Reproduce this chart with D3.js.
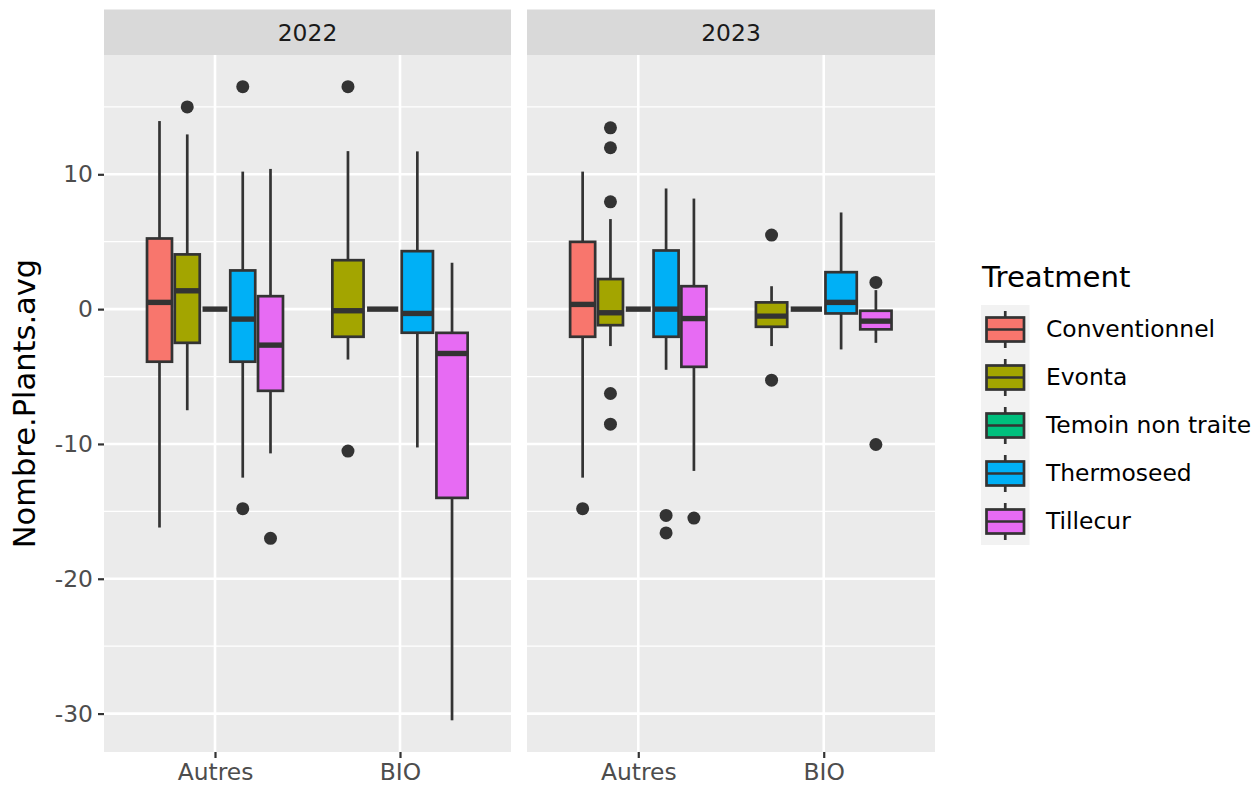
<!DOCTYPE html>
<html>
<head>
<meta charset="utf-8">
<script src="https://cdn.jsdelivr.net/npm/d3@7"></script>
<style>
  html, body { margin: 0; padding: 0; background: #ffffff; }
  svg { display: block; font-family: "DejaVu Sans", sans-serif; }
</style>
</head>
<body>
<svg id="chart" width="1260" height="786"></svg>
<script>
// Facets, x categories and fill groups
const years = ["2022", "2023"];
const systems = ["Autres", "BIO"];
const treatments = ["Conventionnel", "Evonta", "Temoin non traite", "Thermoseed", "Tillecur"];
const treatmentColors = ["#F8766D", "#A3A500", "#00BF7D", "#00B0F6", "#E76BF3"];
const yTicks = [-30, -20, -10, 0, 10];
const yTickLabels = ["-30", "-20", "-10", "0", "10"];
const yMinorTicks = [-25, -15, -5, 5, 15];

// Box statistics: [system, treatment, lower whisker, Q1, median, Q3, upper whisker]
const boxes2022 = [
  ["Autres", "Conventionnel",     -16.2, -3.9,  0.5,   5.24, 13.95],
  ["Autres", "Evonta",             -7.5, -2.5,  1.36,  4.06, 12.96],
  ["Autres", "Temoin non traite",   0,    0,    0,     0,     0],
  ["Autres", "Thermoseed",        -12.5, -3.9, -0.74,  2.87, 10.2],
  ["Autres", "Tillecur",          -10.7, -6.06,-2.67,  0.96, 10.4],
  ["BIO",    "Evonta",             -3.74,-2.05,-0.12,  3.63, 11.72],
  ["BIO",    "Temoin non traite",   0,    0,    0,     0,     0],
  ["BIO",    "Thermoseed",        -10.26,-1.75,-0.32,  4.3,  11.7],
  ["BIO",    "Tillecur",          -30.5,-14.0, -3.29, -1.76,  3.44]
];
const boxes2023 = [
  ["Autres", "Conventionnel",     -12.5, -2.05, 0.35,  4.99, 10.2],
  ["Autres", "Evonta",             -2.74,-1.19,-0.27,  2.23,  6.68],
  ["Autres", "Temoin non traite",   0,    0,    0,     0,     0],
  ["Autres", "Thermoseed",         -4.5, -2.05, 0,     4.35,  8.95],
  ["Autres", "Tillecur",          -12.0, -4.28,-0.7,   1.7,   8.2],
  ["BIO",    "Evonta",             -2.74,-1.31,-0.52,  0.5,   1.7],
  ["BIO",    "Temoin non traite",   0,    0,    0,     0,     0],
  ["BIO",    "Thermoseed",         -2.99,-0.32, 0.5,   2.74,  7.17],
  ["BIO",    "Tillecur",           -2.5, -1.5, -0.89, -0.12,  1.41]
];

// Outliers: [system, treatment, value]
const outliers2022 = [
  ["Autres", "Evonta", 15.0],
  ["Autres", "Thermoseed", 16.5],
  ["Autres", "Thermoseed", -14.8],
  ["Autres", "Tillecur", -17.0],
  ["BIO", "Evonta", 16.5],
  ["BIO", "Evonta", -10.53]
];
const outliers2023 = [
  ["Autres", "Conventionnel", -14.8],
  ["Autres", "Evonta", 13.45],
  ["Autres", "Evonta", 11.97],
  ["Autres", "Evonta", 7.96],
  ["Autres", "Evonta", -6.26],
  ["Autres", "Evonta", -8.53],
  ["Autres", "Thermoseed", -15.3],
  ["Autres", "Thermoseed", -16.6],
  ["Autres", "Tillecur", -15.5],
  ["BIO", "Evonta", 5.49],
  ["BIO", "Evonta", -5.27],
  ["BIO", "Tillecur", 1.98],
  ["BIO", "Tillecur", -10.04]
];

const boxesByYear = { "2022": boxes2022, "2023": boxes2023 };
const outliersByYear = { "2022": outliers2022, "2023": outliers2023 };

const svg = d3.select("#chart");
const color = d3.scaleOrdinal().domain(treatments).range(treatmentColors);

// Layout
const panelTop = 55, panelBottom = 752;
const stripTop = 9.5;
const panels = [
  { year: years[0], left: 104, right: 511 },
  { year: years[1], left: 527, right: 935 }
];
const ink = "#333333";

const y = d3.scaleLinear().domain([-32.85, 18.85]).range([panelBottom, panelTop]);

const dodgeWidth = 0.75;   // total width shared by groups at one x position
const boxPadding = 0.1;    // fraction of each slot left empty

panels.forEach(p => {
  const g = svg.append("g");
  // x positions are 1..n in a continuous space expanded by 0.6 on each side
  const x = d3.scaleLinear().domain([0.4, systems.length + 0.6]).range([p.left, p.right]);
  const xPos = s => systems.indexOf(s) + 1;

  // panel background
  g.append("rect")
    .attr("x", p.left).attr("y", panelTop)
    .attr("width", p.right - p.left).attr("height", panelBottom - panelTop)
    .attr("fill", "#EBEBEB");

  // minor grid
  g.selectAll(".ymin").data(yMinorTicks).join("line")
    .attr("x1", p.left).attr("x2", p.right)
    .attr("y1", d => y(d)).attr("y2", d => y(d))
    .attr("stroke", "#ffffff").attr("stroke-width", 1.3);
  // major grid
  g.selectAll(".ymaj").data(yTicks).join("line")
    .attr("x1", p.left).attr("x2", p.right)
    .attr("y1", d => y(d)).attr("y2", d => y(d))
    .attr("stroke", "#ffffff").attr("stroke-width", 2.6);
  g.selectAll(".xmaj").data(systems).join("line")
    .attr("x1", d => x(xPos(d))).attr("x2", d => x(xPos(d)))
    .attr("y1", panelTop).attr("y2", panelBottom)
    .attr("stroke", "#ffffff").attr("stroke-width", 2.6);

  // strip
  g.append("rect")
    .attr("x", p.left).attr("y", stripTop)
    .attr("width", p.right - p.left).attr("height", panelTop - stripTop)
    .attr("fill", "#D9D9D9");
  g.append("text")
    .attr("x", (p.left + p.right) / 2).attr("y", (stripTop + panelTop) / 2)
    .attr("dy", "0.36em")
    .attr("text-anchor", "middle")
    .attr("font-size", 23.4).attr("fill", "#1A1A1A")
    .text(p.year);

  // x axis
  const xAxis = d3.axisBottom(x)
    .tickValues(systems.map(xPos))
    .tickFormat(v => systems[v - 1])
    .tickSize(6).tickPadding(5);
  const ax = g.append("g").attr("transform", `translate(0,${panelBottom})`).call(xAxis);
  ax.select(".domain").remove();
  ax.selectAll(".tick line").attr("stroke", ink).attr("stroke-width", 2.2);
  ax.selectAll(".tick text")
    .attr("font-family", "DejaVu Sans, sans-serif")
    .attr("font-size", 23.4).attr("fill", "#4D4D4D");

  // dodged positions for the groups present at each x
  const rows = boxesByYear[p.year];
  const groupsAt = {};
  systems.forEach(s => {
    groupsAt[s] = treatments.filter(t => rows.some(r => r[0] === s && r[1] === t));
  });
  const slotOf = (s, t) => {
    const list = groupsAt[s];
    const n = list.length;
    const slot = dodgeWidth / n;
    const i = list.indexOf(t);
    return { center: xPos(s) - dodgeWidth / 2 + slot * (i + 0.5), width: slot * (1 - boxPadding) };
  };

  const boxData = rows.map(r => {
    const pos = slotOf(r[0], r[1]);
    return { system: r[0], treatment: r[1], lo: r[2], q1: r[3], med: r[4], q3: r[5], hi: r[6], ...pos };
  });

  const bg = g.append("g");
  // whiskers
  bg.selectAll(".whisk-up").data(boxData).join("line")
    .attr("x1", d => x(d.center)).attr("x2", d => x(d.center))
    .attr("y1", d => y(d.q3)).attr("y2", d => y(d.hi))
    .attr("stroke", ink).attr("stroke-width", 2.7);
  bg.selectAll(".whisk-dn").data(boxData).join("line")
    .attr("x1", d => x(d.center)).attr("x2", d => x(d.center))
    .attr("y1", d => y(d.q1)).attr("y2", d => y(d.lo))
    .attr("stroke", ink).attr("stroke-width", 2.7);
  // boxes
  bg.selectAll(".box").data(boxData).join("rect")
    .attr("x", d => x(d.center - d.width / 2))
    .attr("width", d => x(d.center + d.width / 2) - x(d.center - d.width / 2))
    .attr("y", d => y(d.q3))
    .attr("height", d => y(d.q1) - y(d.q3))
    .attr("fill", d => color(d.treatment))
    .attr("stroke", ink).attr("stroke-width", 2.7);
  // medians
  bg.selectAll(".med").data(boxData).join("line")
    .attr("x1", d => x(d.center - d.width / 2)).attr("x2", d => x(d.center + d.width / 2))
    .attr("y1", d => y(d.med)).attr("y2", d => y(d.med))
    .attr("stroke", ink).attr("stroke-width", 5.4);

  // outliers
  const outData = outliersByYear[p.year].map(o => ({ system: o[0], treatment: o[1], v: o[2], ...slotOf(o[0], o[1]) }));
  bg.selectAll(".out").data(outData).join("circle")
    .attr("cx", d => x(d.center)).attr("cy", d => y(d.v))
    .attr("r", 6.5).attr("fill", ink);
});

// y axis on the first panel
const yAxis = d3.axisLeft(y)
  .tickValues(yTicks)
  .tickFormat((d, i) => yTickLabels[i])
  .tickSize(6).tickPadding(5);
const yax = svg.append("g").attr("transform", `translate(${panels[0].left},0)`).call(yAxis);
yax.select(".domain").remove();
yax.selectAll(".tick line").attr("stroke", ink).attr("stroke-width", 2.2);
yax.selectAll(".tick text")
  .attr("font-family", "DejaVu Sans, sans-serif")
  .attr("font-size", 23.4).attr("fill", "#4D4D4D");

// y axis title
svg.append("text")
  .attr("transform", `translate(35,${(panelTop + panelBottom) / 2}) rotate(-90)`)
  .attr("text-anchor", "middle")
  .attr("font-size", 30.5).attr("fill", "#000000")
  .text("Nombre.Plants.avg");

// legend
const legend = svg.append("g");
const legX = 981, legTitleY = 287, keyTop = 305, keyH = 48, keyW = 48.5;
legend.append("text")
  .attr("x", 982).attr("y", legTitleY)
  .attr("font-size", 29.2).attr("fill", "#000000")
  .text("Treatment");
const keys = legend.selectAll(".key").data(treatments).join("g")
  .attr("transform", (d, i) => `translate(${legX},${keyTop + i * keyH})`);
keys.append("rect")
  .attr("width", keyW).attr("height", keyH).attr("fill", "#F2F2F2");
keys.append("line")
  .attr("x1", keyW / 2).attr("x2", keyW / 2).attr("y1", 6).attr("y2", keyH - 5)
  .attr("stroke", ink).attr("stroke-width", 2.7);
keys.append("rect")
  .attr("x", 5.5).attr("y", 12.5).attr("width", keyW - 11).attr("height", 24)
  .attr("fill", d => color(d)).attr("stroke", ink).attr("stroke-width", 2.7);
keys.append("line")
  .attr("x1", 5.5).attr("x2", keyW - 5.5).attr("y1", 24.5).attr("y2", 24.5)
  .attr("stroke", ink).attr("stroke-width", 2.7);
keys.append("text")
  .attr("x", 1046 - legX).attr("y", keyH / 2).attr("dy", "0.36em")
  .attr("font-size", 23.4).attr("fill", "#000000")
  .text(d => d);
</script>
</body>
</html>
